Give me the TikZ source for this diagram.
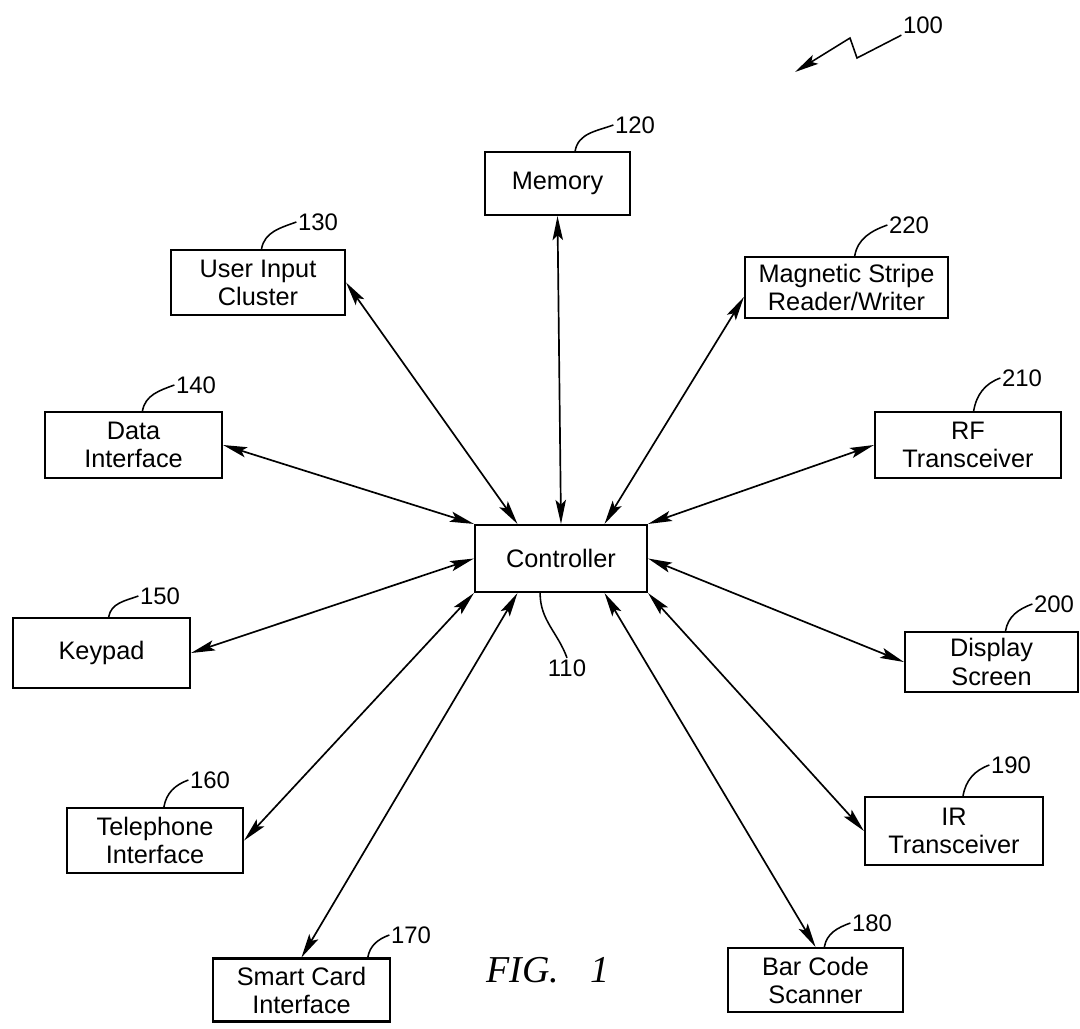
\documentclass[tikz,border=0pt]{standalone}
\usepackage{fontspec}
\setmainfont{Liberation Sans}
\newfontfamily\figfont{Liberation Serif}
\usepackage{tikz}
\usetikzlibrary{arrows.meta,calc}

\tikzset{
  blk/.style={draw, line width=1.5pt, align=center, inner sep=0pt,
    font=\fontsize{18}{20}\selectfont},
  num/.style={inner sep=1pt, font=\fontsize{17}{17}\selectfont},
  lead/.style={line width=1.1pt},
  link/.style={<->, line width=1.2pt},
  >={Stealth[length=6mm,width=2.6mm,inset=1.2mm]}
}

\begin{document}
\begin{tikzpicture}[x=0.025cm, y=-0.025cm]
    \useasboundingbox (0,0) rectangle (1080,1028);
    % blocks
    \node [blk, minimum width=4.3cm, minimum height=1.675cm] (ctrl) at (561,558.5) {Controller};
    \node [blk, minimum width=3.625cm, minimum height=1.575cm] (mem) at (557.5,183.5) {Memory};
    \node [blk, minimum width=4.35cm, minimum height=1.625cm] (user) at (258,282.5) {User Input\\Cluster};
    \node [blk, minimum width=5.075cm, minimum height=1.525cm] (mag) at (846.5,287.5) {Magnetic Stripe\\Reader/Writer};
    \node [blk, minimum width=4.425cm, minimum height=1.65cm] (data) at (133.5,445) {Data\\Interface};
    \node [blk, minimum width=4.65cm, minimum height=1.65cm] (rf) at (968,445) {RF\\Transceiver};
    \node [blk, minimum width=4.425cm, minimum height=1.75cm] (key) at (101.5,653) {Keypad};
    \node [blk, minimum width=4.325cm, minimum height=1.5cm] (disp) at (991.5,662) {Display\\Screen};
    \node [blk, minimum width=4.4cm, minimum height=1.625cm] (tel) at (155,840.5) {Telephone\\Interface};
    \node [blk, minimum width=4.45cm, minimum height=1.7cm] (ir) at (954,831) {IR\\Transceiver};
    \node [blk, minimum width=4.425cm, minimum height=1.575cm] (smart) at (301.5,990) {Smart Card\\Interface};
    \node [blk, minimum width=4.375cm, minimum height=1.6cm] (bar) at (815.5,980) {Bar Code\\Scanner};

    % links to the controller
    \draw [link] (mem.south) -- (ctrl.north);
    \draw [link] (user.east) -- ($(ctrl.north west)!0.25!(ctrl.north east)$);
    \draw [link] ($(mag.south west)!0.35!(mag.north west)$) -- ($(ctrl.north west)!0.75!(ctrl.north east)$);
    \draw [link] (data.east) -- (ctrl.north west);
    \draw [link] (rf.west) -- (ctrl.north east);
    \draw [link] (key.east) -- (ctrl.west);
    \draw [link] (disp.west) -- (ctrl.east);
    \draw [link] (tel.east) -- (ctrl.south west);
    \draw [link] (ir.west) -- (ctrl.south east);
    \draw [link] (smart.north) -- ($(ctrl.south west)!0.25!(ctrl.south east)$);
    \draw [link] (bar.north) -- ($(ctrl.south west)!0.75!(ctrl.south east)$);

    % reference numerals
    \node [num] (n120) at (635,125) {120};
    \node [num] (n130) at (318,222) {130};
    \node [num] (n220) at (909,225) {220};
    \node [num] (n140) at (196,385) {140};
    \node [num] (n210) at (1022,378) {210};
    \node [num] (n150) at (160,596) {150};
    \node [num] (n200) at (1054,604) {200};
    \node [num] (n110) at (567,668) {110};
    \node [num] (n160) at (210,780) {160};
    \node [num] (n190) at (1011,765) {190};
    \node [num] (n170) at (411,935) {170};
    \node [num] (n180) at (872,923) {180};
    \node [num] (n100) at (923,25) {100};

    \draw [lead] ($(mem.north west)!0.62!(mem.north east)$) to[out=80,in=200] (n120.west);
    \draw [lead] ($(user.north west)!0.52!(user.north east)$) to[out=80,in=200] (n130.west);
    \draw [lead] ($(mag.north west)!0.54!(mag.north east)$) to[out=80,in=200] (n220.west);
    \draw [lead] ($(data.north west)!0.55!(data.north east)$) to[out=80,in=200] (n140.west);
    \draw [lead] ($(rf.north west)!0.53!(rf.north east)$) to[out=80,in=200] (n210.west);
    \draw [lead] ($(key.north west)!0.54!(key.north east)$) to[out=80,in=200] (n150.west);
    \draw [lead] ($(disp.north west)!0.58!(disp.north east)$) to[out=80,in=200] (n200.west);
    \draw [lead] ($(tel.north west)!0.55!(tel.north east)$) to[out=80,in=200] (n160.west);
    \draw [lead] ($(ir.north west)!0.55!(ir.north east)$) to[out=80,in=200] (n190.west);
    \draw [lead] ($(smart.north west)!0.87!(smart.north east)$) to[out=80,in=200] (n170.west);
    \draw [lead] ($(bar.north west)!0.55!(bar.north east)$) to[out=80,in=200] (n180.west);
    \draw [lead] ($(ctrl.south west)!0.38!(ctrl.south east)$) to[out=-90,in=110] (n110.north);

    \coordinate (tip100) at (795,72);
    \draw [lead, ->] (n100.south west) -- (857,58) -- (850,38) -- (tip100);

    \node [font=\fontsize{27}{27}\selectfont\figfont\itshape] (fig) at (548,970) {FIG.\hspace{22pt}1};
\end{tikzpicture}
\end{document}
